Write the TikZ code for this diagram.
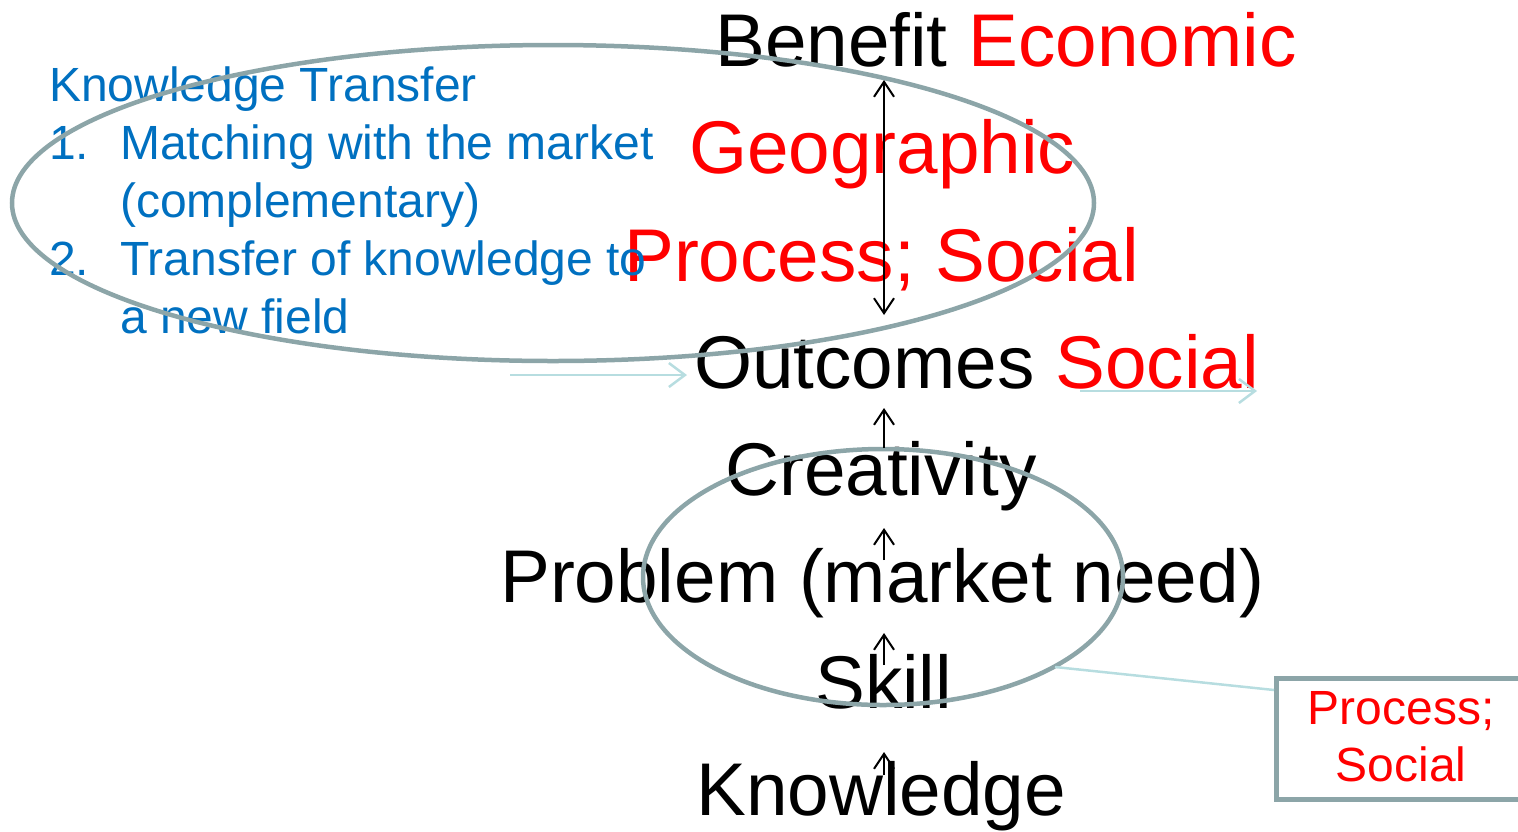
\documentclass[tikz,border=0pt]{standalone}
\usepackage{fontspec}
\setmainfont{Liberation Sans}
\usetikzlibrary{arrows.meta,shapes.geometric}
\definecolor{ringgray}{RGB}{140,165,168}
\definecolor{lightcyan}{RGB}{183,221,224}
\definecolor{kblue}{RGB}{0,112,192}
\definecolor{kred}{RGB}{255,0,0}
\tikzset{
  big/.style={anchor=base west,inner sep=0pt,font=\fontsize{74.7}{88}\selectfont},
  blue/.style={anchor=base west,inner sep=0pt,text=kblue,font=\fontsize{48}{56}\selectfont},
  ring/.style={draw=ringgray,line width=4.5pt},
  uparrow/.style={draw=black,line width=2pt,-{Straight Barb[length=15pt,width=20pt]}},
  dblarrow/.style={draw=black,line width=2pt,{Straight Barb[length=15pt,width=20pt]}-{Straight Barb[length=15pt,width=20pt]}},
  cyanarrow/.style={draw=lightcyan,line width=2.5pt,-{Straight Barb[length=16pt,width=24pt]}},
  cyanline/.style={draw=lightcyan,line width=2.5pt},
}
\begin{document}
\begin{tikzpicture}[x=1pt,y=-1pt]
\useasboundingbox (0,0) rectangle (1518,831);
% text column
\node[big] (benefit) at (715,66) {Benefit \textcolor{kred}{Economic}};
\node[big,text=kred] (geo) at (689,173) {Geographic};
\node[big,text=kred] (proc) at (624,281) {Process; Social};
\node[big] (outcomes) at (694,388) {Outcomes \textcolor{kred}{Social}};
\node[big] (creat) at (725,495) {Creativity};
\node[big] (problem) at (500,602) {Problem (market need)};
\node[big] (skill) at (815,708) {Skill};
\node[big] (knowledge) at (696,815) {Knowledge};
% blue list
\node[blue] (kt) at (49,101) {Knowledge Transfer};
\node[blue] (n1) at (49,159) {1.};
\node[blue] (l1) at (120,159) {Matching with the market};
\node[blue] (l1b) at (120,217) {(complementary)};
\node[blue] (n2) at (49,275) {2.};
\node[blue] (l2) at (120,275) {Transfer of knowledge to};
\node[blue] (l2b) at (120,333) {a new field};
% ellipses
\node[ring,ellipse,minimum width=1082pt,minimum height=316pt,inner sep=0pt] (bigring) at (553,203) {};
\node[ring,ellipse,minimum width=480pt,minimum height=256pt,inner sep=0pt] (smallring) at (883,577) {};
% arrows
\coordinate (a0) at (884,80);
\coordinate (a1) at (884,315);
\draw[dblarrow] (a0) -- (a1);
\coordinate (b0) at (884,448); \coordinate (b1) at (884,408);
\draw[uparrow] (b0) -- (b1);
\coordinate (c0) at (884,560); \coordinate (c1) at (884,528);
\draw[uparrow] (c0) -- (c1);
\coordinate (d0) at (884,665); \coordinate (d1) at (884,633);
\draw[uparrow] (d0) -- (d1);
\coordinate (e0) at (884,775); \coordinate (e1) at (884,752);
\draw[uparrow] (e0) -- (e1);
% cyan arrows
\coordinate (f0) at (510,375); \coordinate (f1) at (687,375);
\draw[cyanarrow] (f0) -- (f1);
\coordinate (g0) at (1080,391); \coordinate (g1) at (1257,391);
\draw[cyanarrow] (g0) -- (g1);
% callout
\node[draw=ringgray,line width=4.5pt,minimum width=260pt,minimum height=121pt,inner sep=0pt,anchor=north west] (box) at (1274,676) {};
\node[text=kred,font=\fontsize{48}{57}\selectfont,align=center,inner sep=0pt] (boxtext) at (1401,737) {Process;\\Social};
\coordinate (h0) at (1055,667);
\coordinate (h1) at (1274,690);
\draw[cyanline] (h0) -- (h1);
\end{tikzpicture}
\end{document}
